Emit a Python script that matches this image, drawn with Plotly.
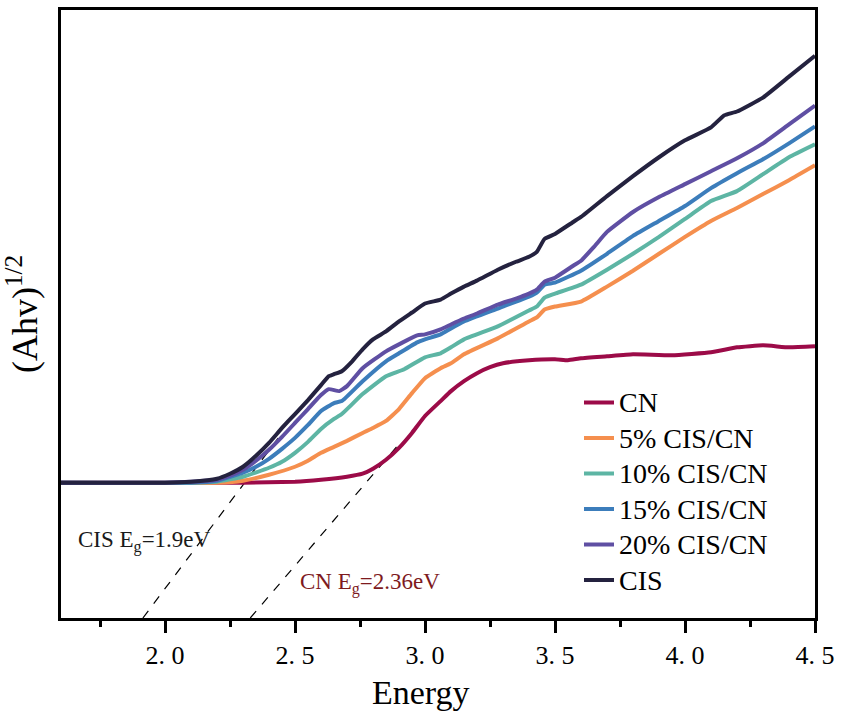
import plotly.graph_objects as go

# ---- data (y in arbitrary units) ----
cis_x = [1.6, 2.0, 2.1, 2.2, 2.25, 2.3, 2.35, 2.4, 2.45, 2.5, 2.55, 2.6, 2.63, 2.65, 2.68, 2.72, 2.76, 2.8, 2.85, 2.9, 2.95, 3.0, 3.06, 3.1, 3.15, 3.2, 3.28, 3.35, 3.4, 3.43, 3.46, 3.5, 3.57, 3.6, 3.7, 3.8, 3.9, 4.0, 4.1, 4.15, 4.2, 4.3, 4.4, 4.5]
cis_y = [1.36, 1.36, 1.37, 1.40, 1.45, 1.52, 1.63, 1.76, 1.91, 2.05, 2.19, 2.34, 2.43, 2.45, 2.48, 2.58, 2.70, 2.80, 2.88, 2.98, 3.07, 3.16, 3.20, 3.26, 3.33, 3.39, 3.50, 3.58, 3.63, 3.68, 3.81, 3.86, 3.98, 4.03, 4.24, 4.44, 4.63, 4.80, 4.93, 5.05, 5.09, 5.23, 5.44, 5.65]

p20_x = [1.6, 2.0, 2.1, 2.2, 2.25, 2.3, 2.35, 2.4, 2.45, 2.5, 2.55, 2.6, 2.63, 2.67, 2.7, 2.76, 2.85, 2.9, 2.97, 3.0, 3.06, 3.1, 3.15, 3.2, 3.28, 3.35, 3.4, 3.43, 3.46, 3.5, 3.57, 3.6, 3.65, 3.7, 3.8, 3.9, 4.0, 4.1, 4.2, 4.3, 4.4, 4.5]
p20_y = [1.36, 1.36, 1.37, 1.39, 1.43, 1.49, 1.58, 1.69, 1.82, 1.96, 2.10, 2.24, 2.30, 2.28, 2.33, 2.51, 2.68, 2.75, 2.84, 2.85, 2.90, 2.95, 3.01, 3.06, 3.15, 3.21, 3.26, 3.30, 3.38, 3.42, 3.54, 3.59, 3.73, 3.88, 4.08, 4.23, 4.36, 4.49, 4.62, 4.77, 4.96, 5.15]

p15_x = [1.6, 2.1, 2.2, 2.3, 2.35, 2.4, 2.45, 2.5, 2.55, 2.6, 2.65, 2.68, 2.76, 2.85, 2.9, 2.97, 3.0, 3.06, 3.1, 3.15, 3.28, 3.4, 3.43, 3.46, 3.5, 3.6, 3.7, 3.8, 3.9, 4.0, 4.1, 4.2, 4.3, 4.4, 4.5]
p15_y = [1.36, 1.36, 1.38, 1.46, 1.52, 1.60, 1.70, 1.81, 1.94, 2.08, 2.16, 2.18, 2.38, 2.58, 2.66, 2.77, 2.80, 2.85, 2.91, 2.98, 3.11, 3.23, 3.27, 3.35, 3.37, 3.49, 3.66, 3.84, 3.99, 4.14, 4.32, 4.47, 4.61, 4.77, 4.94]

p10_x = [1.6, 2.1, 2.2, 2.3, 2.4, 2.45, 2.5, 2.55, 2.6, 2.65, 2.68, 2.76, 2.85, 2.92, 3.0, 3.06, 3.1, 3.15, 3.28, 3.4, 3.43, 3.46, 3.5, 3.6, 3.7, 3.8, 3.9, 4.0, 4.1, 4.2, 4.3, 4.4, 4.5]
p10_y = [1.36, 1.36, 1.37, 1.42, 1.51, 1.57, 1.66, 1.77, 1.90, 2.00, 2.05, 2.25, 2.43, 2.50, 2.62, 2.66, 2.72, 2.80, 2.93, 3.09, 3.13, 3.22, 3.26, 3.35, 3.50, 3.66, 3.83, 4.01, 4.19, 4.29, 4.46, 4.63, 4.76]

p5_x = [1.6, 2.2, 2.3, 2.4, 2.5, 2.55, 2.6, 2.65, 2.7, 2.76, 2.8, 2.85, 2.9, 2.95, 3.0, 3.06, 3.1, 3.15, 3.28, 3.4, 3.43, 3.46, 3.5, 3.6, 3.7, 3.8, 3.9, 4.0, 4.1, 4.2, 4.3, 4.4, 4.5]
p5_y = [1.36, 1.36, 1.38, 1.44, 1.52, 1.58, 1.66, 1.72, 1.78, 1.86, 1.91, 1.98, 2.10, 2.26, 2.41, 2.51, 2.56, 2.65, 2.81, 2.98, 3.02, 3.10, 3.13, 3.18, 3.33, 3.49, 3.66, 3.83, 3.99, 4.12, 4.26, 4.40, 4.55]

cn_x = [1.6, 2.3, 2.5, 2.6, 2.7, 2.76, 2.8, 2.85, 2.9, 2.95, 3.0, 3.06, 3.1, 3.15, 3.2, 3.25, 3.3, 3.4, 3.5, 3.55, 3.6, 3.7, 3.8, 3.95, 4.1, 4.2, 4.3, 4.4, 4.5]
cn_y = [1.36, 1.36, 1.37, 1.39, 1.42, 1.45, 1.50, 1.59, 1.71, 1.86, 2.03, 2.18, 2.28, 2.38, 2.46, 2.52, 2.56, 2.59, 2.60, 2.59, 2.61, 2.63, 2.65, 2.64, 2.67, 2.72, 2.74, 2.72, 2.73]

# tangent (Tauc) extrapolation lines
cis_fit_x = [1.915, 2.439]
cis_fit_y = [0.0, 1.82]
cn_fit_x = [2.328, 2.891]
cn_fit_y = [0.0, 1.72]

names = ["CN", "5% CIS/CN", "10% CIS/CN", "15% CIS/CN", "20% CIS/CN", "CIS"]
colors = ["#9C0B48", "#F58F4E", "#5DB5A4", "#3C7DBB", "#5F4FA3", "#24223F"]
series = [(cn_x, cn_y), (p5_x, p5_y), (p10_x, p10_y), (p15_x, p15_y), (p20_x, p20_y), (cis_x, cis_y)]

tick_vals = [2.0, 2.5, 3.0, 3.5, 4.0, 4.5]
tick_text = ["2. 0", "2. 5", "3. 0", "3. 5", "4. 0", "4. 5"]

serif = "Liberation Serif, Times New Roman, serif"

fig = go.Figure()
fig.add_trace(go.Scatter(x=cis_fit_x, y=cis_fit_y, mode="lines", showlegend=False,
                         line=dict(color="black", width=1.2, dash="dash")))
fig.add_trace(go.Scatter(x=cn_fit_x, y=cn_fit_y, mode="lines", showlegend=False,
                         line=dict(color="black", width=1.2, dash="dash")))
for (xs, ys), n, c in zip(series, names, colors):
    fig.add_trace(go.Scatter(x=xs, y=ys, mode="lines",
                             name="<span style='font-size:28px'>" + n + "</span>",
                             line=dict(color=c, width=4, shape="spline", smoothing=0.4)))

fig.add_annotation(x=1.92, y=0.77, xref="x", yref="y", text="CIS E<sub>g</sub>=1.9eV",
                   showarrow=False, font=dict(family=serif, size=23, color="#1a1a1a"),
                   xanchor="center", yanchor="middle")
fig.add_annotation(x=2.79, y=0.35, xref="x", yref="y", text="CN E<sub>g</sub>=2.36eV",
                   showarrow=False, font=dict(family=serif, size=23, color="#7E1A1E"),
                   xanchor="center", yanchor="middle")
# x-axis title (placed slightly left of centre, as in the reference)
fig.add_annotation(x=0.478, y=-0.123, xref="paper", yref="paper", text="Energy",
                   showarrow=False, font=dict(family=serif, size=34, color="black"),
                   xanchor="center", yanchor="middle")

fig.update_layout(
    width=842, height=718,
    margin=dict(l=61, r=24, t=7, b=100),
    paper_bgcolor="white", plot_bgcolor="white",
    font=dict(family=serif, color="black"),
    showlegend=True,
    legend=dict(x=0.687, y=0.392, xanchor="left", yanchor="top",
                font=dict(family=serif, size=25, color="black"),
                bgcolor="rgba(0,0,0,0)", borderwidth=0, tracegroupgap=0,
                traceorder="normal"),
    xaxis=dict(range=[1.6, 4.5], tickmode="array", tickvals=tick_vals, ticktext=tick_text,
               ticks="outside", ticklen=12, tickwidth=2.5, tickcolor="black",
               minor=dict(ticks="outside", ticklen=6, tickwidth=2.5, tickcolor="black",
                          tickvals=[1.75, 2.25, 2.75, 3.25, 3.75, 4.25]),
               showline=True, linecolor="black", linewidth=3, mirror=True,
               showgrid=False, zeroline=False,
               tickfont=dict(family=serif, size=26, color="black")),
    yaxis=dict(range=[0, 6.11], showticklabels=False, ticks="",
               showline=True, linecolor="black", linewidth=3, mirror=True,
               showgrid=False, zeroline=False,
               title=dict(text="(Ahv)<sup>1/2</sup>", font=dict(family=serif, size=36, color="black"), standoff=10)),
)

fig.write_html("out.html")
